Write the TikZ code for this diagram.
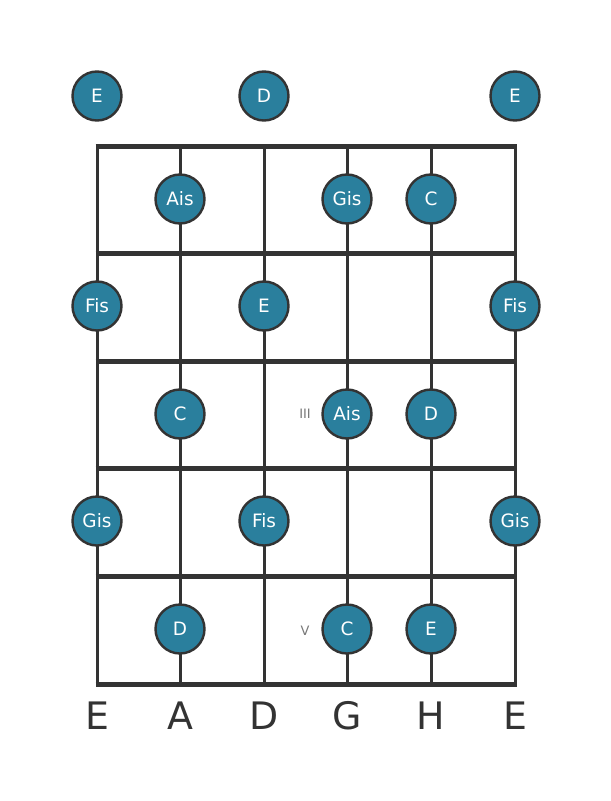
\documentclass[tikz,border=0pt]{standalone}
\usepackage{fontspec}
\setmainfont{DejaVu Sans}
\definecolor{notefill}{HTML}{2A7F9D}
\definecolor{linecol}{HTML}{333333}
\definecolor{labgray}{HTML}{777777}
\begin{document}
\begin{tikzpicture}[x=1bp,y=-1bp,
  fretline/.style={draw=linecol,line width=5bp},
  stringline/.style={draw=linecol,line width=3bp},
  note/.style={circle,fill=notefill,draw=linecol,line width=2.4bp,minimum size=49bp,inner sep=0pt,text=white,font=\fontsize{18.5}{18.5}\selectfont},
  strlabel/.style={text=linecol,font=\fontsize{38}{38}\selectfont},
  fretnum/.style={text=labgray,font=\fontsize{13}{13}\selectfont}]
\useasboundingbox (0,0) rectangle (611,801);
% string coordinates
\foreach \n/\x in {s1/97,s2/180,s3/264,s4/347,s5/431,s6/515}{
  \coordinate (\n top) at (\x,146);
  \coordinate (\n bot) at (\x,684);
}
\foreach \n in {s1,s2,s3,s4,s5,s6}{
  \draw[stringline] (\n top) -- (\n bot);
}
\foreach \f/\y in {f0/146,f1/253,f2/361,f3/468,f4/576,f5/684}{
  \coordinate (\f l) at (95.5,\y);
  \coordinate (\f r) at (516.5,\y);
  \draw[fretline] (\f l) -- (\f r);
}
% open strings
\node[note] (o1) at (97,96) {E};
\node[note] (o3) at (264,96) {D};
\node[note] (o6) at (515,96) {E};
% fret 1
\node[note] (a1) at (180,199) {Ais};
\node[note] (a2) at (347,199) {Gis};
\node[note] (a3) at (431,199) {C};
% fret 2
\node[note] (b1) at (97,306) {Fis};
\node[note] (b2) at (264,306) {E};
\node[note] (b3) at (515,306) {Fis};
% fret 3
\node[note] (c1) at (180,414) {C};
\node[note] (c2) at (347,414) {Ais};
\node[note] (c3) at (431,414) {D};
\node[fretnum] (n3) at (305,414) {III};
% fret 4
\node[note] (d1) at (97,521) {Gis};
\node[note] (d2) at (264,521) {Fis};
\node[note] (d3) at (515,521) {Gis};
% fret 5
\node[note] (e1) at (180,629) {D};
\node[note] (e2) at (347,629) {C};
\node[note] (e3) at (431,629) {E};
\node[fretnum] (n5) at (305,631) {V};
% string names
\foreach \n/\x/\t in {l1/97/E,l2/180/A,l3/264/D,l4/347/G,l5/431/H,l6/515/E}{
  \node[strlabel] (\n) at (\x,716) {\t};
}
\end{tikzpicture}
\end{document}
